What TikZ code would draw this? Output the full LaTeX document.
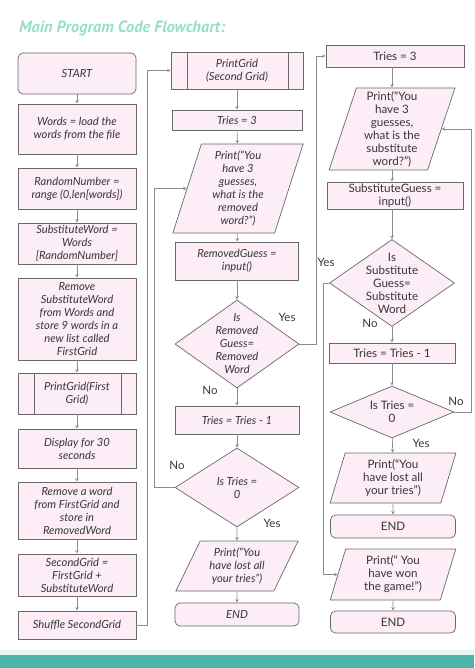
\documentclass[tikz,border=0pt]{standalone}
\usepackage{fontspec}
\setmainfont{Lato}
\newfontfamily\titlefont{PT Sans}
\usepackage{tikz}
\usetikzlibrary{arrows,shapes,positioning}
\usepackage{xcolor}
\definecolor{fcpink}{RGB}{252,237,246}
\definecolor{fcborder}{RGB}{105,105,105}
\definecolor{fcline}{RGB}{140,140,140}
\definecolor{fctext}{RGB}{55,55,55}
\definecolor{fctitle}{RGB}{150,222,204}
\definecolor{fcteal}{RGB}{76,181,171}
\definecolor{fcmint}{RGB}{232,247,246}
\tikzstyle{arrow} = [->,>=stealth,line width=0.6pt,color=fcline]
\tikzstyle{process} = [rectangle, draw=fcborder, fill=fcpink, line width=0.7pt, text centered, align=center, inner sep=1pt, text=fctext, font=\fontsize{11.2}{13}\selectfont\itshape]
\tikzstyle{startstop} = [process, rounded corners=5pt]
\tikzstyle{subroutine} = [process, path picture={
  \draw[fcborder, line width=0.7pt] ([xshift=16pt]path picture bounding box.north west) -- ([xshift=16pt]path picture bounding box.south west);
  \draw[fcborder, line width=0.7pt] ([xshift=-15pt]path picture bounding box.north east) -- ([xshift=-15pt]path picture bounding box.south east);}]
\tikzstyle{io} = [process, trapezium, trapezium left angle=75, trapezium right angle=105, trapezium stretches=true]
\tikzstyle{decision} = [process, diamond, inner sep=-10pt]
\tikzstyle{upright} = [font=\fontsize{11.6}{13}\selectfont\upshape]
\tikzstyle{answer} = [inner sep=0pt, text=fctext, font=\fontsize{11.5}{13}\selectfont]

\begin{document}
\begin{tikzpicture}[x=1pt, y=-1pt]
\useasboundingbox (0,0) rectangle (474,668);
% Footer band
\fill[fcmint] (0,650) rectangle (474,655);
\fill[fcteal] (0,655) rectangle (474,668);

\node[anchor=west, inner sep=0pt, text=fctitle, font=\titlefont\bfseries\itshape\fontsize{16.3}{18}\selectfont] (title) at (19,28) {Main Program Code Flowchart:};

% Left column: set up the grids
\node[startstop, minimum width=118pt, minimum height=41pt] (start) at (77,73.5) {START};
\node[process, minimum width=118pt, minimum height=50pt] (load) at (77,129) {Words = load the\\words from the file};
\node[process, minimum width=118pt, minimum height=41pt] (random) at (77,188.5) {RandomNumber =\\range (0,len[words])};
\node[process, minimum width=118pt, minimum height=41pt] (subword) at (77,243.5) {SubstituteWord =\\Words\\{[RandomNumber]}};
\node[process, minimum width=118pt, minimum height=82pt] (remove) at (77,319) {Remove\\SubstituteWord\\from Words and\\store 9 words in a\\new list called\\FirstGrid};
\node[subroutine, minimum width=118pt, minimum height=41pt] (gridone) at (77,393.5) {PrintGrid(First\\Grid)};
\node[process, minimum width=118pt, minimum height=39pt] (wait) at (77,448.5) {Display for 30\\seconds};
\node[process, minimum width=118pt, minimum height=57pt] (takeword) at (77,510.5) {Remove a word\\from FirstGrid and\\store in\\RemovedWord};
\node[process, minimum width=118pt, minimum height=42pt] (makegrid) at (77,575) {SecondGrid =\\FirstGrid +\\SubstituteWord};
\node[process, minimum width=118pt, minimum height=28pt] (shuffle) at (77,625) {Shuffle SecondGrid};

\draw[arrow] (start) -- (load);
\draw[arrow] (load) -- (random);
\draw[arrow] (random) -- (subword);
\draw[arrow] (subword) -- (remove);
\draw[arrow] (remove) -- (gridone);
\draw[arrow] (gridone) -- (wait);
\draw[arrow] (wait) -- (takeword);
\draw[arrow] (takeword) -- (makegrid);
\draw[arrow] (makegrid) -- (shuffle);

% Middle column: guess the removed word
\node[subroutine, minimum width=132pt, minimum height=37pt] (gridtwo) at (237,70.5) {PrintGrid\\(Second Grid)};
\node[process, minimum width=130pt, minimum height=20pt] (tries) at (237,120) {Tries = 3};
\node[io, minimum width=131pt, minimum height=89pt] (askremoved) at (238,188.5) {Print(“You\\have 3\\guesses,\\what is the\\removed\\word?”)};
\node[process, minimum width=123pt, minimum height=38pt] (removedguess) at (237,261) {RemovedGuess =\\input()};
\node[decision, minimum width=124pt, minimum height=88pt] (checkremoved) at (237,344) {Is\\Removed\\Guess=\\Removed\\Word};
\node[process, minimum width=124pt, minimum height=28pt] (lessone) at (237,420) {Tries = Tries - 1};
\node[decision, minimum width=124pt, minimum height=79pt] (zerotries) at (237,487.5) {Is Tries =\\0};
\node[io, trapezium left angle=64, trapezium right angle=116, minimum width=123pt, minimum height=50pt] (lostleft) at (237,566) {Print(“You\\have lost all\\your tries”)};
\node[startstop, minimum width=124pt, minimum height=23pt] (endleft) at (237,614.5) {END};

\draw[arrow] (gridtwo) -- (tries);
\draw[arrow] (tries) -- (askremoved);
\draw[arrow] (askremoved) -- (removedguess);
\draw[arrow] (removedguess) -- (checkremoved);
\draw[arrow] (checkremoved) -- (lessone);
\draw[arrow] (lessone) -- (zerotries);
\draw[arrow] (zerotries) -- (lostleft);
\draw[arrow] (lostleft) -- (endleft);
\draw[arrow] (zerotries.west) -- ++(-20,0) |- (askremoved.west);
\node[answer] (yesremoved) at (287,317) {Yes};
\node[answer] (noremoved) at (210,390) {No};
\node[answer] (nozero) at (177,465) {No};
\node[answer] (yeszero) at (272,523) {Yes};

% Right column: guess the substitute word
\node[process, upright, minimum width=138pt, minimum height=22pt] (rtries) at (395,56) {Tries = 3};
\node[io, upright, trapezium left angle=74, trapezium right angle=106, minimum width=126pt, minimum height=82pt] (asksub) at (392,129) {Print(“You\\have 3\\guesses,\\what is the\\substitute\\word?”)};
\node[process, upright, minimum width=136pt, minimum height=27pt] (subguess) at (395,195.5) {SubstituteGuess =\\input()};
\node[decision, upright, minimum width=125pt, minimum height=87pt] (checksub) at (392,283) {Is\\Substitute\\Guess=\\Substitute\\Word};
\node[process, upright, minimum width=126pt, minimum height=20pt] (rlessone) at (392,353) {Tries = Tries - 1};
\node[decision, upright, minimum width=124pt, minimum height=52pt] (rzerotries) at (392,412) {Is Tries =\\0};
\node[io, upright, trapezium left angle=76, trapezium right angle=104, minimum width=126pt, minimum height=50pt] (lostright) at (393,478) {Print(“You\\have lost all\\your tries”)};
\node[startstop, upright, minimum width=125pt, minimum height=23pt] (endlost) at (393,526.5) {END};
\node[io, upright, trapezium left angle=76, trapezium right angle=104, minimum width=126pt, minimum height=51pt] (won) at (393,574.5) {Print(“ You\\have won\\the game!”)};
\node[startstop, upright, minimum width=125pt, minimum height=22pt] (endwon) at (393,622) {END};

\draw[arrow] (rtries.south -| asksub.north) -- (asksub.north);
\draw[arrow] (asksub.south) -- (asksub.south |- subguess.north);
\draw[arrow] (subguess.south -| checksub.north) -- (checksub.north);
\draw[arrow] (checksub) -- (rlessone);
\draw[arrow] (rlessone) -- (rzerotries);
\draw[arrow] (rzerotries) -- (lostright);
\draw[arrow] (lostright) -- (endlost);
\draw[arrow] (won) -- (endwon);
\draw[arrow] (checksub.west) -- ++(-6,0) |- (won.west);
\draw[arrow] (rzerotries.east) -- ++(17,0) |- (asksub.east);
\node[answer] (yessub) at (326,262) {Yes};
\node[answer] (nosub) at (370,323) {No};
\node[answer] (norzero) at (456,401) {No};
\node[answer] (yesrzero) at (421,443) {Yes};

% Links between the columns
\draw[arrow] (shuffle.east) -- ++(11,0) |- (gridtwo.west);
\draw[arrow] (checkremoved.east) -- ++(17,0) |- (rtries.west);
\end{tikzpicture}
\end{document}
